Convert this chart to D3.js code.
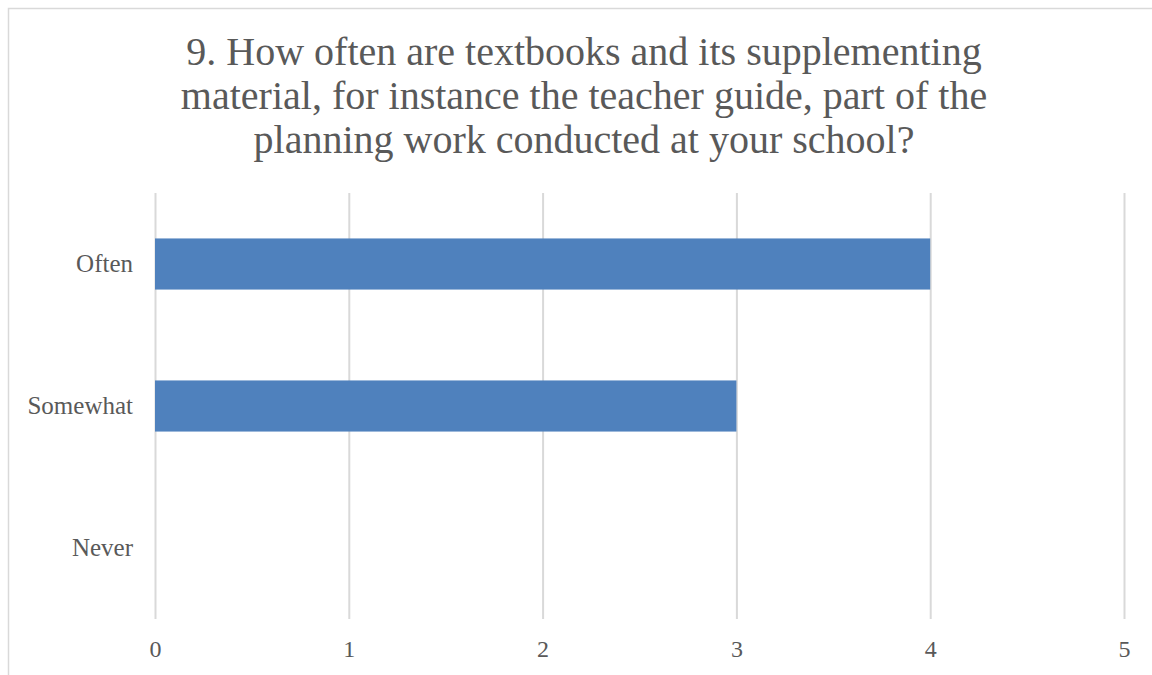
<!DOCTYPE html>
<html>
<head>
<meta charset="utf-8">
<script src="https://cdn.jsdelivr.net/npm/d3@7"></script>
<style>
  html, body { margin: 0; padding: 0; background: #fff; overflow: hidden; }
  svg { display: block; }
  text { font-family: "Liberation Serif", "DejaVu Serif", serif; fill: #595959; }
</style>
</head>
<body>
<svg id="chart" width="1152" height="675"></svg>
<script>
const titleLines = [
  "9. How often are textbooks and its supplementing",
  "material, for instance the teacher guide, part of the",
  "planning work conducted at your school?"
];
const categories = ["Often", "Somewhat", "Never"];
const values = [4, 3, 0];
const xTicks = [0, 1, 2, 3, 4, 5];

const svg = d3.select("#chart");

// chart frame (cropped at right/bottom)
svg.append("rect")
  .attr("x", 8.5).attr("y", 8.5)
  .attr("width", 1160).attr("height", 700)
  .attr("fill", "#fff")
  .attr("stroke", "#d9d9d9").attr("stroke-width", 1.5);

// title
const title = svg.append("text")
  .attr("text-anchor", "middle")
  .style("font-size", "40px");
titleLines.forEach((l, i) => {
  title.append("tspan").attr("x", 584).attr("y", 65 + i * 44).text(l);
});

const plot = { left: 155, right: 1124, top: 193, bottom: 619 };

const x = d3.scaleLinear().domain([0, 5]).range([plot.left, plot.right]);
const y = d3.scaleBand().domain(categories).range([plot.top, plot.bottom])
  .paddingInner(0.64).paddingOuter(0.32);

// gridlines + tick labels
const xAxis = svg.append("g")
  .attr("transform", `translate(0,${plot.bottom})`)
  .call(d3.axisBottom(x).tickValues(xTicks).tickFormat(d3.format("d"))
    .tickSize(-(plot.bottom - plot.top)).tickPadding(21));
xAxis.select(".domain").remove();
xAxis.selectAll(".tick line").attr("stroke", "#d9d9d9").attr("stroke-width", 2);
xAxis.selectAll(".tick text").style("font-size", "24px").attr("fill", "#595959")
  .attr("font-family", "Liberation Serif");

// bars
svg.append("g").selectAll("rect")
  .data(categories.map((c, i) => ({ c, v: values[i] })))
  .join("rect")
  .attr("x", x(0))
  .attr("y", d => y(d.c))
  .attr("width", d => x(d.v) - x(0))
  .attr("height", y.bandwidth())
  .attr("fill", "#4f81bd");

// category labels
const yAxis = svg.append("g")
  .attr("transform", `translate(${plot.left},0)`)
  .call(d3.axisLeft(y).tickSize(0).tickPadding(22));
yAxis.select(".domain").remove();
yAxis.selectAll(".tick text").style("font-size", "25px").attr("fill", "#595959")
  .attr("font-family", "Liberation Serif");
</script>
</body>
</html>
